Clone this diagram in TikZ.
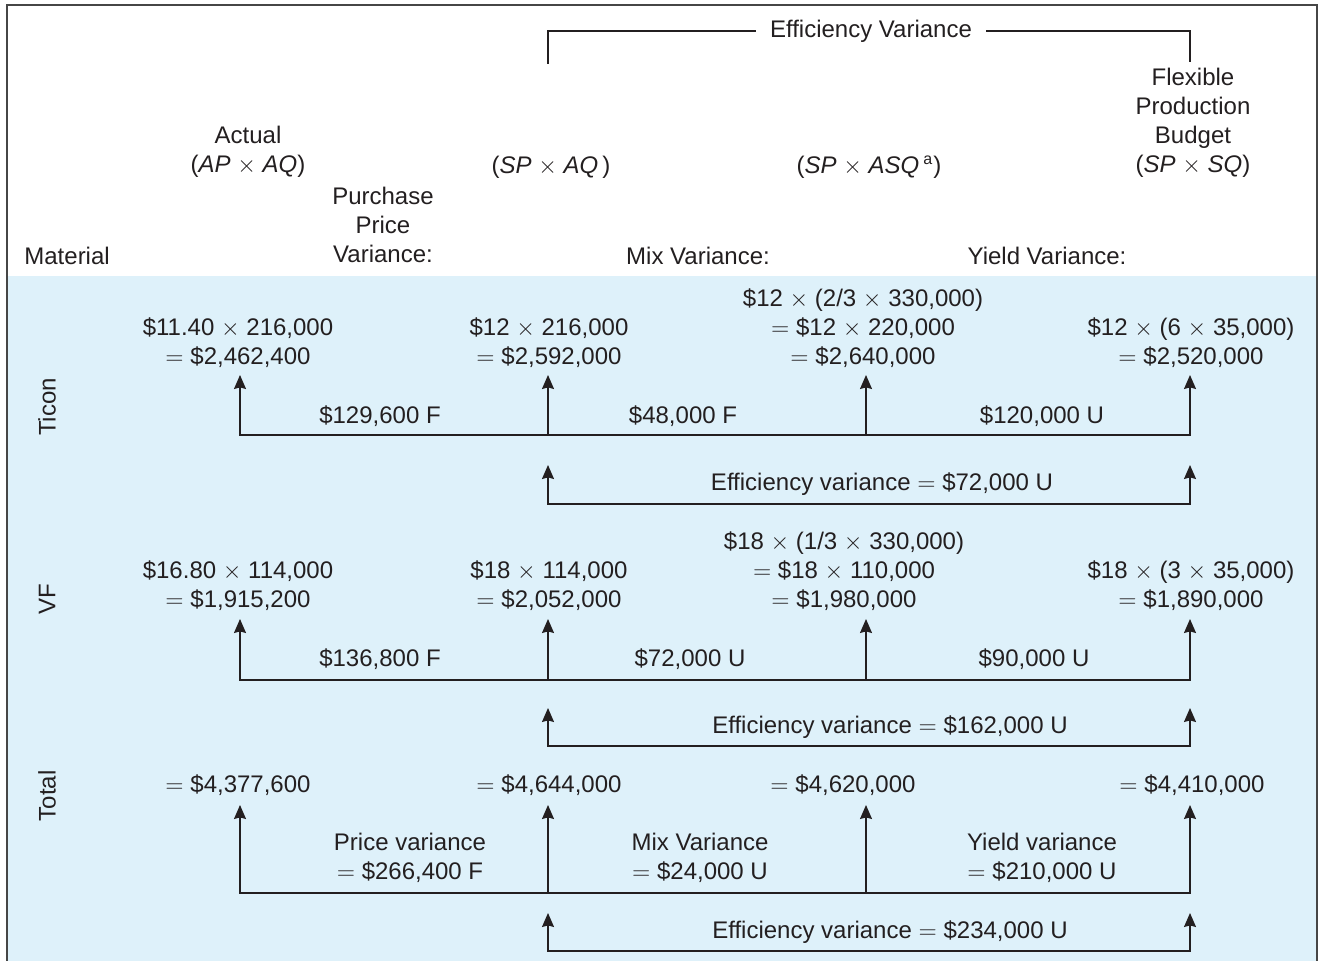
\documentclass[tikz,border=0pt]{standalone}
\usepackage{fontspec}
\setmainfont{Liberation Sans}
\usetikzlibrary{arrows.meta}
\definecolor{ink}{RGB}{35,31,32}
\definecolor{panel}{RGB}{222,241,250}
\definecolor{framegray}{RGB}{70,70,70}
% multiplication and equality signs in the wider math shapes
\newcommand\mult{\ensuremath{\times}}
\newcommand\eqs{\ensuremath{=}}
\begin{document}
\begin{tikzpicture}[x=0.5pt,y=-0.5pt,
  every node/.style={text=ink, font=\fontsize{12}{14.5}\selectfont, inner sep=0pt, align=center},
  arr/.style={draw=ink, line width=0.75pt, -{Stealth[length=7pt,width=6pt,inset=0.8pt]}},
  barr/.style={draw=ink, line width=0.75pt, {Stealth[length=7pt,width=6pt,inset=0.8pt]}-{Stealth[length=7pt,width=6pt,inset=0.8pt]}},
  link/.style={draw=ink, line width=0.75pt},
  sidelabel/.style={rotate=90}]
\useasboundingbox (0,0) rectangle (1324,961);
% panel and frame
\fill[panel] (7,276) rectangle (1317,961);
\draw[framegray, line width=0.9pt] (7,961) -- (7,5) -- (1317,5) -- (1317,961);

% ---------- column headings ----------
\node (effhead) at (871,31) {Efficiency Variance};
\coordinate (effL) at (548,64);
\coordinate (effR) at (1190,62);
\draw[link] ([xshift=-7pt]effhead.west) -| (effL);
\draw[link] ([xshift=7pt]effhead.east) -| (effR);

\node (actual) at (248,152) {Actual\\(\textit{AP} \mult{} \textit{AQ})};
\node (ppv) at (383,225) {Purchase\\Price\\Variance:};
\node[anchor=west] (material) at (24,256) {Material};
\node (spaq) at (551,167) {(\textit{SP} \mult{} \textit{AQ}\,)};
\node (spasq) at (869,167) {(\textit{SP} \mult{} \textit{ASQ}\,\textsuperscript{a})};
\node (flex) at (1193,123) {Flexible\\Production\\Budget\\(\textit{SP} \mult{} \textit{SQ})};
\node (mixh) at (698,256) {Mix Variance:};
\node (yieldh) at (1047,256) {Yield Variance:};

% ---------- side labels ----------
\node[sidelabel] (ticon) at (47,407) {Ticon};
\node[sidelabel] (vf) at (47,599) {VF};
\node[sidelabel] (total) at (47,796) {Total};

% ---------- Ticon ----------
\node (t1) at (238,343) {\$11.40 \mult{} 216,000\\\eqs{} \$2,462,400};
\node (t2) at (549,343) {\$12 \mult{} 216,000\\\eqs{} \$2,592,000};
\node (t3) at (863,328) {\$12 \mult{} (2/3 \mult{} 330,000)\\\eqs{} \$12 \mult{} 220,000\\\eqs{} \$2,640,000};
\node (t4) at (1191,343) {\$12 \mult{} (6 \mult{} 35,000)\\\eqs{} \$2,520,000};
\coordinate (t1tip) at (240,375); \coordinate (t1base) at (240,435);
\coordinate (t2tip) at (548,375); \coordinate (t2base) at (548,435);
\coordinate (t3tip) at (866,375); \coordinate (t3base) at (866,435);
\coordinate (t4tip) at (1190,375); \coordinate (t4base) at (1190,435);
\draw[barr] (t1tip) -- (t1base) -- (t4base) -- (t4tip);
\draw[arr] (t2base) -- (t2tip);
\draw[arr] (t3base) -- (t3tip);
\node (tv1) at (380,416) {\$129,600 F};
\node (tv2) at (683,416) {\$48,000 F};
\node (tv3) at (1042,416) {\$120,000 U};
\coordinate (te1tip) at (548,465); \coordinate (te1base) at (548,504);
\coordinate (te2tip) at (1190,465); \coordinate (te2base) at (1190,504);
\draw[barr] (te1tip) -- (te1base) -- (te2base) -- (te2tip);
\node (teff) at (882,484) {Efficiency variance \eqs{} \$72,000 U};

% ---------- VF ----------
\node (v1) at (238,586) {\$16.80 \mult{} 114,000\\\eqs{} \$1,915,200};
\node (v2) at (549,586) {\$18 \mult{} 114,000\\\eqs{} \$2,052,000};
\node (v3) at (844,571) {\$18 \mult{} (1/3 \mult{} 330,000)\\\eqs{} \$18 \mult{} 110,000\\\eqs{} \$1,980,000};
\node (v4) at (1191,586) {\$18 \mult{} (3 \mult{} 35,000)\\\eqs{} \$1,890,000};
\coordinate (v1tip) at (240,619); \coordinate (v1base) at (240,680);
\coordinate (v2tip) at (548,619); \coordinate (v2base) at (548,680);
\coordinate (v3tip) at (866,619); \coordinate (v3base) at (866,680);
\coordinate (v4tip) at (1190,619); \coordinate (v4base) at (1190,680);
\draw[barr] (v1tip) -- (v1base) -- (v4base) -- (v4tip);
\draw[arr] (v2base) -- (v2tip);
\draw[arr] (v3base) -- (v3tip);
\node (vv1) at (380,659) {\$136,800 F};
\node (vv2) at (690,659) {\$72,000 U};
\node (vv3) at (1034,659) {\$90,000 U};
\coordinate (ve1tip) at (548,708); \coordinate (ve1base) at (548,746);
\coordinate (ve2tip) at (1190,708); \coordinate (ve2base) at (1190,746);
\draw[barr] (ve1tip) -- (ve1base) -- (ve2base) -- (ve2tip);
\node (veff) at (890,727) {Efficiency variance \eqs{} \$162,000 U};

% ---------- Total ----------
\node (s1) at (238,785) {\eqs{} \$4,377,600};
\node (s2) at (549,785) {\eqs{} \$4,644,000};
\node (s3) at (843,785) {\eqs{} \$4,620,000};
\node (s4) at (1192,785) {\eqs{} \$4,410,000};
\coordinate (s1tip) at (240,805); \coordinate (s1base) at (240,893);
\coordinate (s2tip) at (548,805); \coordinate (s2base) at (548,893);
\coordinate (s3tip) at (866,805); \coordinate (s3base) at (866,893);
\coordinate (s4tip) at (1190,805); \coordinate (s4base) at (1190,893);
\draw[barr] (s1tip) -- (s1base) -- (s4base) -- (s4tip);
\draw[arr] (s2base) -- (s2tip);
\draw[arr] (s3base) -- (s3tip);
\node (sv1) at (410,858) {Price variance\\\eqs{} \$266,400 F};
\node (sv2) at (700,858) {Mix Variance\\\eqs{} \$24,000 U};
\node (sv3) at (1042,858) {Yield variance\\\eqs{} \$210,000 U};
\coordinate (se1tip) at (548,913); \coordinate (se1base) at (548,951);
\coordinate (se2tip) at (1190,913); \coordinate (se2base) at (1190,951);
\draw[barr] (se1tip) -- (se1base) -- (se2base) -- (se2tip);
\node (seff) at (890,932) {Efficiency variance \eqs{} \$234,000 U};
\end{tikzpicture}
\end{document}
